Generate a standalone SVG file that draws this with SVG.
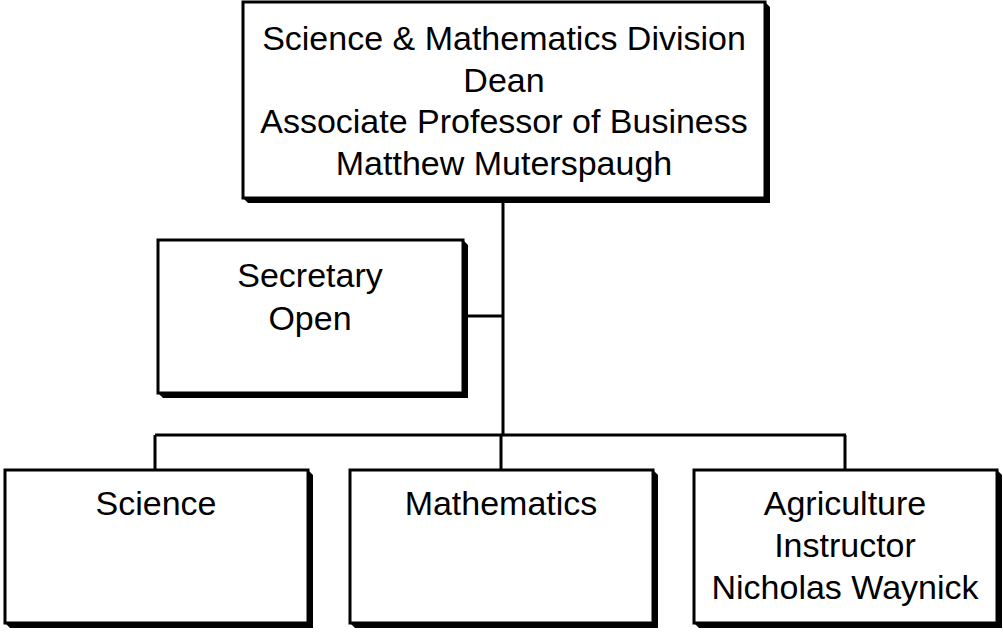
<svg xmlns="http://www.w3.org/2000/svg" width="1003" height="634" viewBox="0 0 1003 634">
<style>
.box{fill:#fff;stroke:#000;stroke-width:3}
.sh{fill:#000}
.ln{stroke:#000;stroke-width:3;fill:none}
text{font-family:"Liberation Sans",Arial,sans-serif;font-size:34px;fill:#000;text-anchor:middle}
</style>
<rect width="1003" height="634" fill="#fff"/>
<g id="connectors">
<line class="ln" x1="503" y1="198" x2="503" y2="436"/>
<line class="ln" x1="463" y1="316" x2="503" y2="316"/>
<line class="ln" x1="155" y1="435" x2="846" y2="435"/>
<line class="ln" x1="155" y1="435" x2="155" y2="470"/>
<line class="ln" x1="501" y1="435" x2="501" y2="470"/>
<line class="ln" x1="845" y1="435" x2="845" y2="470"/>
</g>
<g id="dean">
<polygon class="sh" points="765,2 770,7 770,203 248,203 243,198"/>
<rect class="box" x="243" y="2" width="522" height="196"/>
<text x="504" y="50">Science &amp; Mathematics Division</text>
<text x="504" y="92">Dean</text>
<text x="504" y="133">Associate Professor of Business</text>
<text x="504" y="175">Matthew Muterspaugh</text>
</g>
<g id="secretary">
<polygon class="sh" points="463,240 468,245 468,398 163,398 158,393"/>
<rect class="box" x="158" y="240" width="305" height="153"/>
<text x="310" y="287">Secretary</text>
<text x="310" y="330">Open</text>
</g>
<g id="science">
<polygon class="sh" points="308,470 313,475 313,628 10,628 5,623"/>
<rect class="box" x="5" y="470" width="303" height="153"/>
<text x="156" y="515">Science</text>
</g>
<g id="mathematics">
<polygon class="sh" points="653,470 658,475 658,628 355,628 350,623"/>
<rect class="box" x="350" y="470" width="303" height="153"/>
<text x="501" y="515">Mathematics</text>
</g>
<g id="agriculture">
<polygon class="sh" points="997,470 1002,475 1002,628 699,628 694,623"/>
<rect class="box" x="694" y="470" width="303" height="153"/>
<text x="845" y="515">Agriculture</text>
<text x="845" y="557">Instructor</text>
<text x="845" y="599">Nicholas Waynick</text>
</g>
</svg>
